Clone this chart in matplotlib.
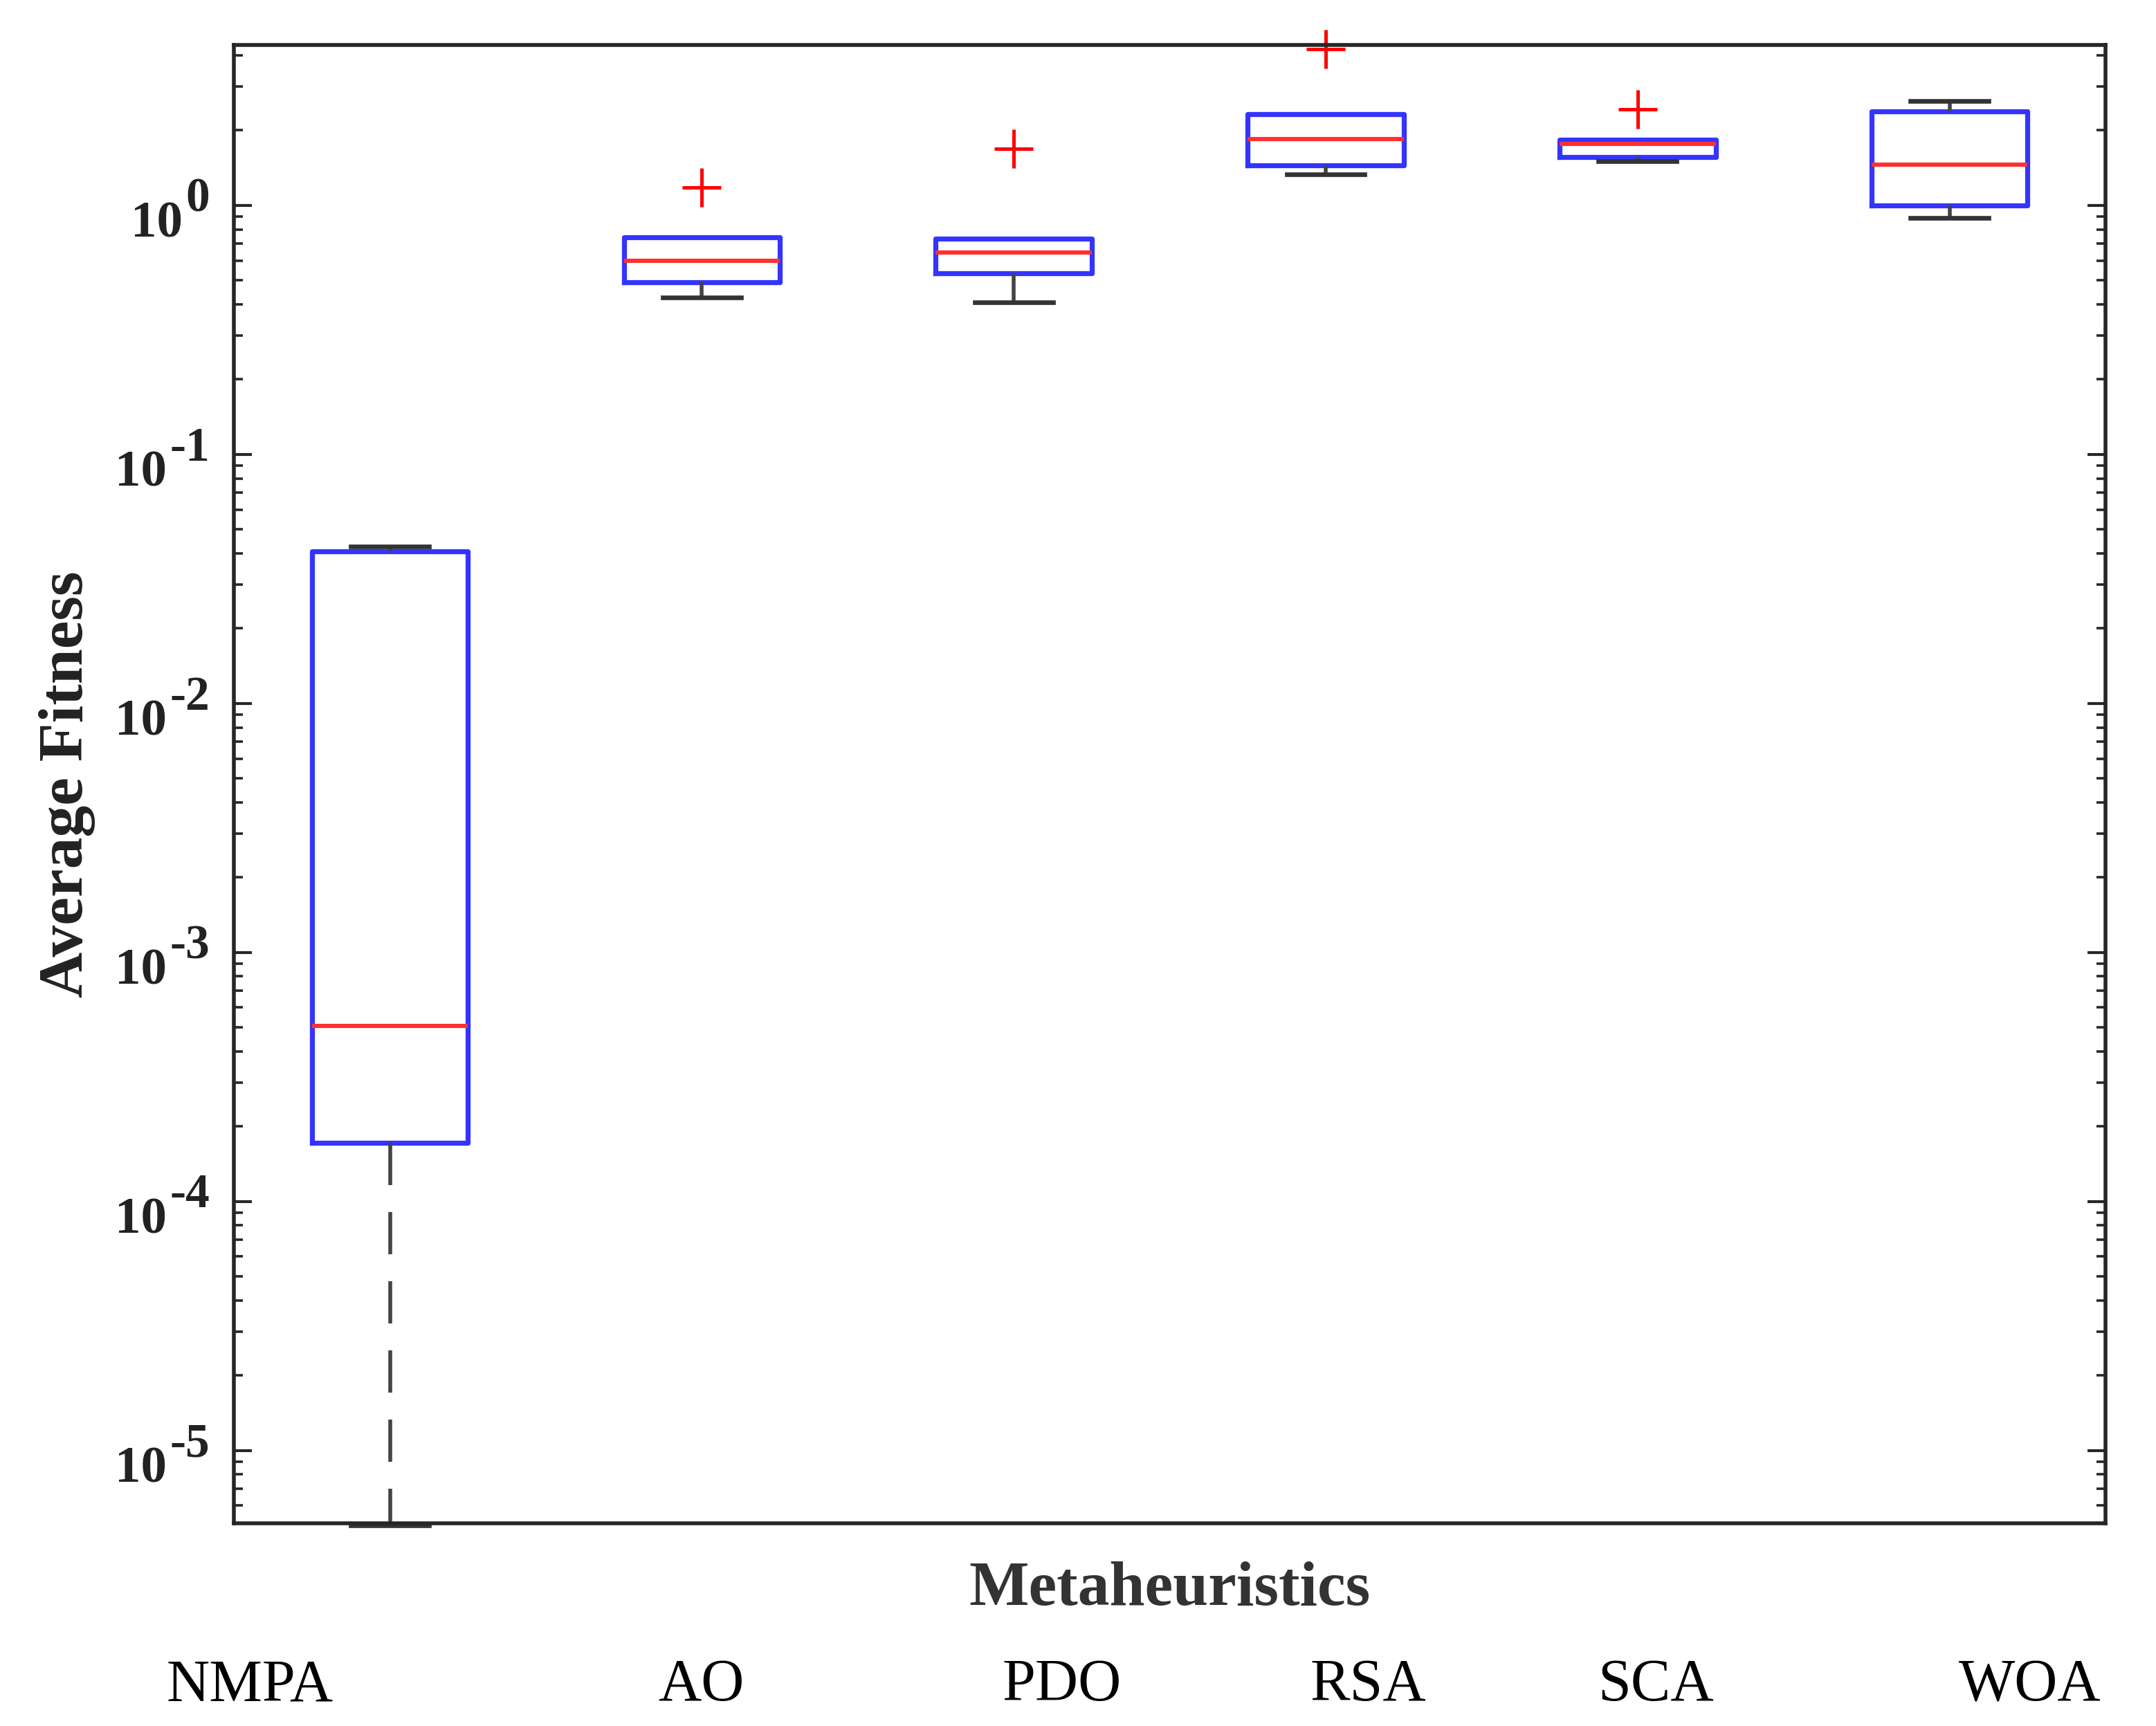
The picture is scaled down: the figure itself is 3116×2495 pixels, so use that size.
import numpy as np
import matplotlib.pyplot as plt
from matplotlib import transforms
from matplotlib.ticker import LogLocator, NullFormatter

plt.rcParams['font.family'] = ['Liberation Serif', 'DejaVu Serif']

# values (log scale)
methods = ['NMPA', 'AO', 'PDO', 'RSA', 'SCA', 'WOA']
q1 = [1.72e-4, 0.490, 0.533, 1.445, 1.56, 1.00]
medians = [5.06e-4, 0.598, 0.645, 1.85, 1.76, 1.46]
q3 = [0.0407, 0.743, 0.733, 2.32, 1.83, 2.38]
whisker_low = [5.0e-6, 0.426, 0.407, 1.33, 1.50, 0.888]
whisker_high = [0.0426, 0.743, 0.733, 2.32, 1.83, 2.62]
outliers = [[], [1.177], [1.684], [4.23], [2.43], []]

# layout of the loose method names under the x label (figure fraction)
name_x = [0.1159, 0.3251, 0.4926, 0.6345, 0.7680, 0.9416]

fig = plt.figure(figsize=(15.58, 12.475), dpi=200)
ax = fig.add_axes([0.1085, 0.1174, 0.8681, 0.8565])

stats = []
for i in range(len(methods)):
    stats.append(dict(med=medians[i], q1=q1[i], q3=q3[i],
                      whislo=whisker_low[i], whishi=whisker_high[i],
                      fliers=outliers[i], label=methods[i]))

positions = np.arange(1, len(methods) + 1)
parts = ax.bxp(stats, positions=positions, widths=0.5, capwidths=0.25,
               manage_ticks=False,
               boxprops=dict(color='#3434ff', linewidth=2.6),
               medianprops=dict(color='#ff3030', linewidth=2.2),
               whiskerprops=dict(color='#444444', linewidth=2.0,
                                 linestyle=(0, (11, 7))),
               capprops=dict(color='#333333', linewidth=2.4),
               flierprops=dict(marker='+', markersize=20, markeredgewidth=1.8,
                               markeredgecolor='#ff0000', linestyle='none'))

for i in range(len(methods)):
    if whisker_high[i] <= q3[i]:
        parts['caps'][2 * i + 1].set_visible(False)
for art in parts['caps'] + parts['whiskers'] + parts['fliers']:
    art.set_clip_on(False)

ax.set_yscale('log')
ax.set_ylim(5.09e-6, 4.40)
ax.set_xlim(0.5, 6.5)
ax.set_xticks([])

ax.yaxis.set_major_locator(LogLocator(base=10, numticks=20))
ax.yaxis.set_minor_locator(LogLocator(base=10, subs=np.arange(2, 10), numticks=100))
ax.yaxis.set_major_formatter(NullFormatter())
ax.yaxis.set_minor_formatter(NullFormatter())
ax.tick_params(axis='y', which='both', direction='in', left=True, right=True,
               color='#262626')
ax.tick_params(axis='y', which='major', length=9.4, width=1.5)
ax.tick_params(axis='y', which='minor', length=4.7, width=1.3)
for sp in ax.spines.values():
    sp.set_linewidth(2.0)
    sp.set_color('#262626')

# decade labels drawn as "10" with a large raised exponent, like the original
trans = transforms.blended_transform_factory(ax.transAxes, ax.transData)
for e in range(-5, 1):
    exp = ax.annotate(str(e), xy=(0, 10.0 ** e), xycoords=trans,
                      xytext=(-12.6, -3.2), textcoords='offset points',
                      ha='right', va='baseline', fontsize=25,
                      fontweight='bold', color='#222222')
    ax.annotate('10', xy=(0, 10.0 ** e), xycoords=(exp, trans),
                xytext=(-1.5, -16.6), textcoords='offset points',
                ha='right', va='baseline', fontsize=27,
                fontweight='bold', color='#222222')

ax.set_ylabel('Average Fitness', fontsize=33, fontweight='bold', color='#222222')
ax.yaxis.set_label_coords(-0.074, 0.5)
ax.set_xlabel('Metaheuristics', fontsize=33, fontweight='bold', color='#333333')
ax.xaxis.set_label_coords(0.5, -0.0257)

for name, x in zip(methods, name_x):
    fig.text(x, 0.0148, name, ha='center', va='baseline', fontsize=31,
             color='black')

fig.savefig('out.png', dpi=200, facecolor='white')
